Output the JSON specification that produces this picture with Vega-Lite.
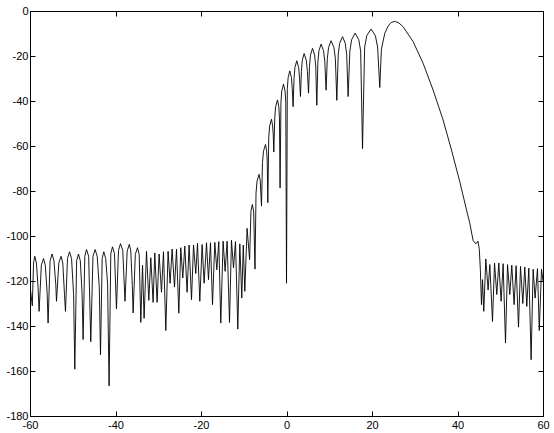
{
  "$schema": "https://vega.github.io/schema/vega-lite/v6.json",
  "width": 513,
  "height": 405,
  "autosize": {"type": "none"},
  "padding": {"left": 30, "top": 11, "right": 11, "bottom": 17},
  "background": "white",
  "config": {
    "view": {"stroke": "black", "strokeWidth": 1},
    "axis": {
      "domainColor": "black",
      "tickColor": "black",
      "tickSize": -5,
      "labelPadding": 8,
      "labelFont": "Liberation Sans",
      "labelFontSize": 11,
      "labelColor": "black",
      "grid": false,
      "title": null
    }
  },
  "data": {
    "values": [
      {"x": -60.00, "y": -122}, {"x": -59.46, "y": -131}, {"x": -59.17, "y": -112}, {"x": -58.88, "y": -109},
      {"x": -58.50, "y": -112}, {"x": -58.11, "y": -123}, {"x": -57.87, "y": -133.5}, {"x": -57.35, "y": -113},
      {"x": -56.84, "y": -110}, {"x": -56.42, "y": -113}, {"x": -56.00, "y": -125}, {"x": -55.77, "y": -138.7},
      {"x": -55.30, "y": -111}, {"x": -54.83, "y": -108}, {"x": -54.40, "y": -111}, {"x": -53.97, "y": -121.5},
      {"x": -53.80, "y": -129}, {"x": -53.26, "y": -112}, {"x": -52.73, "y": -109}, {"x": -52.33, "y": -112},
      {"x": -51.93, "y": -126}, {"x": -51.70, "y": -133.5}, {"x": -51.23, "y": -110}, {"x": -50.76, "y": -107},
      {"x": -50.28, "y": -110}, {"x": -49.80, "y": -126}, {"x": -49.52, "y": -159.2}, {"x": -49.09, "y": -111},
      {"x": -48.66, "y": -108}, {"x": -48.23, "y": -111}, {"x": -47.81, "y": -126}, {"x": -47.58, "y": -146},
      {"x": -47.18, "y": -109}, {"x": -46.78, "y": -106}, {"x": -46.28, "y": -109}, {"x": -45.78, "y": -147},
      {"x": -45.27, "y": -109}, {"x": -44.77, "y": -106}, {"x": -44.28, "y": -109}, {"x": -43.79, "y": -123},
      {"x": -43.51, "y": -152.8}, {"x": -43.12, "y": -110}, {"x": -42.74, "y": -107}, {"x": -42.30, "y": -110},
      {"x": -41.85, "y": -121}, {"x": -41.50, "y": -166.6}, {"x": -41.10, "y": -107.8}, {"x": -40.70, "y": -104.8},
      {"x": -40.24, "y": -107.8}, {"x": -39.77, "y": -132.4}, {"x": -39.30, "y": -106.4}, {"x": -38.83, "y": -103.4},
      {"x": -38.30, "y": -106.4}, {"x": -37.78, "y": -129}, {"x": -37.27, "y": -106.7}, {"x": -36.77, "y": -103.7},
      {"x": -36.42, "y": -106.7}, {"x": -36.07, "y": -122}, {"x": -35.88, "y": -134.2}, {"x": -35.36, "y": -108.2},
      {"x": -34.85, "y": -105.2}, {"x": -34.46, "y": -108.2}, {"x": -34.08, "y": -138.4}, {"x": -33.68, "y": -113},
      {"x": -33.31, "y": -136.6}, {"x": -32.75, "y": -106.8}, {"x": -32.21, "y": -128.6}, {"x": -31.74, "y": -109.7},
      {"x": -31.20, "y": -129.5}, {"x": -30.81, "y": -107.5}, {"x": -30.27, "y": -129.5}, {"x": -29.80, "y": -108},
      {"x": -29.24, "y": -125}, {"x": -28.77, "y": -107}, {"x": -28.23, "y": -142}, {"x": -27.70, "y": -106.8},
      {"x": -27.23, "y": -121}, {"x": -26.76, "y": -105.8}, {"x": -26.20, "y": -122.7}, {"x": -25.73, "y": -105.8},
      {"x": -25.19, "y": -134.3}, {"x": -24.73, "y": -105.2}, {"x": -24.26, "y": -118.7}, {"x": -23.79, "y": -104.5},
      {"x": -23.25, "y": -125}, {"x": -22.78, "y": -104}, {"x": -22.22, "y": -128.3}, {"x": -21.75, "y": -104},
      {"x": -21.22, "y": -116.7}, {"x": -20.82, "y": -103.3}, {"x": -20.28, "y": -129}, {"x": -19.74, "y": -103.8},
      {"x": -19.27, "y": -121}, {"x": -18.71, "y": -103}, {"x": -18.25, "y": -119.4}, {"x": -17.78, "y": -103},
      {"x": -17.31, "y": -130.5}, {"x": -16.77, "y": -102.8}, {"x": -16.30, "y": -115}, {"x": -15.84, "y": -102.5},
      {"x": -15.37, "y": -138.7}, {"x": -14.83, "y": -102.3}, {"x": -14.36, "y": -115.7}, {"x": -13.89, "y": -102.3},
      {"x": -13.33, "y": -138.4}, {"x": -12.87, "y": -101.9}, {"x": -12.40, "y": -114.2}, {"x": -11.93, "y": -102.5},
      {"x": -11.39, "y": -141.4}, {"x": -10.92, "y": -103.5}, {"x": -10.46, "y": -127.6}, {"x": -10.11, "y": -104},
      {"x": -9.75, "y": -124.6}, {"x": -9.22, "y": -96.6}, {"x": -8.63, "y": -110.5}, {"x": -8.32, "y": -89},
      {"x": -8.00, "y": -86}, {"x": -7.68, "y": -89}, {"x": -7.37, "y": -114.7}, {"x": -7.13, "y": -81},
      {"x": -6.89, "y": -75.6}, {"x": -6.41, "y": -72.6}, {"x": -6.13, "y": -75.6}, {"x": -5.85, "y": -86.7},
      {"x": -5.62, "y": -67.3}, {"x": -5.38, "y": -62.3}, {"x": -4.91, "y": -59.3}, {"x": -4.64, "y": -62.3},
      {"x": -4.50, "y": -67.3}, {"x": -4.37, "y": -85.2}, {"x": -4.15, "y": -56.1}, {"x": -3.94, "y": -51.1},
      {"x": -3.51, "y": -48.1}, {"x": -3.24, "y": -51.1}, {"x": -3.10, "y": -55}, {"x": -2.97, "y": -62.7},
      {"x": -2.75, "y": -47.5}, {"x": -2.54, "y": -42.5}, {"x": -2.11, "y": -39.5}, {"x": -1.80, "y": -42.5},
      {"x": -1.65, "y": -47.5}, {"x": -1.50, "y": -78.6}, {"x": -1.30, "y": -40.5}, {"x": -1.10, "y": -35.5},
      {"x": -0.70, "y": -32.5}, {"x": -0.35, "y": -35.5}, {"x": -0.17, "y": -40.5}, {"x": 0.00, "y": -121},
      {"x": 0.19, "y": -34.6}, {"x": 0.38, "y": -29.6}, {"x": 0.77, "y": -26.6}, {"x": 1.15, "y": -29.6},
      {"x": 1.35, "y": -34.6}, {"x": 1.54, "y": -42.5}, {"x": 1.76, "y": -30.1}, {"x": 1.97, "y": -25.1},
      {"x": 2.41, "y": -22.1}, {"x": 2.84, "y": -25.1}, {"x": 3.06, "y": -30.1}, {"x": 3.27, "y": -38},
      {"x": 3.48, "y": -26.9}, {"x": 3.70, "y": -21.9}, {"x": 4.12, "y": -18.9}, {"x": 4.63, "y": -21.9},
      {"x": 4.89, "y": -26.9}, {"x": 5.15, "y": -36.5}, {"x": 5.38, "y": -24.6}, {"x": 5.61, "y": -19.6},
      {"x": 6.08, "y": -16.6}, {"x": 6.58, "y": -19.6}, {"x": 6.84, "y": -24.6}, {"x": 7.09, "y": -41.9},
      {"x": 7.34, "y": -22.7}, {"x": 7.59, "y": -17.7}, {"x": 8.09, "y": -14.7}, {"x": 8.67, "y": -17.7},
      {"x": 8.97, "y": -22.7}, {"x": 9.26, "y": -35.2}, {"x": 9.55, "y": -21.2}, {"x": 9.84, "y": -16.2},
      {"x": 10.43, "y": -13.2}, {"x": 11.10, "y": -16.2}, {"x": 11.43, "y": -21.2}, {"x": 11.77, "y": -39.7},
      {"x": 12.10, "y": -19.4}, {"x": 12.43, "y": -14.4}, {"x": 13.10, "y": -11.4}, {"x": 13.75, "y": -14.4},
      {"x": 14.08, "y": -19.4}, {"x": 14.41, "y": -38}, {"x": 14.82, "y": -17.8}, {"x": 15.23, "y": -12.8},
      {"x": 16.05, "y": -9.8}, {"x": 16.91, "y": -12.8}, {"x": 17.35, "y": -17.8}, {"x": 17.78, "y": -61.2},
      {"x": 18.28, "y": -16}, {"x": 18.78, "y": -11}, {"x": 19.79, "y": -8.0}, {"x": 20.80, "y": -11},
      {"x": 21.31, "y": -16}, {"x": 21.82, "y": -34}, {"x": 22.20, "y": -17}, {"x": 22.99, "y": -9.9},
      {"x": 23.80, "y": -6.6}, {"x": 24.50, "y": -5.1}, {"x": 25.33, "y": -4.6}, {"x": 26.30, "y": -5.3},
      {"x": 27.28, "y": -7.0}, {"x": 29.61, "y": -13.6}, {"x": 31.95, "y": -23.2}, {"x": 34.29, "y": -35.1},
      {"x": 36.63, "y": -48.4}, {"x": 38.60, "y": -61.8}, {"x": 40.54, "y": -75.9}, {"x": 42.11, "y": -88.4},
      {"x": 42.88, "y": -94.4}, {"x": 43.65, "y": -102}, {"x": 44.30, "y": -103.5}, {"x": 44.80, "y": -102.3},
      {"x": 45.10, "y": -106}, {"x": 45.35, "y": -115}, {"x": 45.61, "y": -130.5}, {"x": 45.85, "y": -119.4},
      {"x": 46.15, "y": -133.5}, {"x": 46.62, "y": -110.2}, {"x": 47.16, "y": -124}, {"x": 47.56, "y": -112.7},
      {"x": 48.19, "y": -138}, {"x": 48.66, "y": -112}, {"x": 49.19, "y": -126}, {"x": 49.66, "y": -112},
      {"x": 50.20, "y": -129}, {"x": 50.67, "y": -112.3}, {"x": 51.23, "y": -147.6}, {"x": 51.70, "y": -112.7},
      {"x": 52.23, "y": -126}, {"x": 52.70, "y": -113}, {"x": 53.24, "y": -130.5}, {"x": 53.71, "y": -113.2},
      {"x": 54.27, "y": -140.5}, {"x": 54.74, "y": -113.5}, {"x": 55.28, "y": -130}, {"x": 55.74, "y": -113.8},
      {"x": 56.21, "y": -131.3}, {"x": 56.68, "y": -114.3}, {"x": 57.22, "y": -155}, {"x": 57.69, "y": -114.8},
      {"x": 58.15, "y": -127.6}, {"x": 58.71, "y": -114.5}, {"x": 59.13, "y": -142}, {"x": 59.65, "y": -114.8},
      {"x": 60.00, "y": -120}
    ]
  },
  "layer": [
    {
      "mark": {"type": "line", "color": "black", "strokeWidth": 0.9, "clip": true},
      "encoding": {
        "x": {"field": "x", "type": "quantitative", "sort": null,
              "scale": {"domain": [-60, 60], "nice": false, "zero": false},
              "axis": {"orient": "bottom", "values": [-60, -40, -20, 0, 20, 40, 60], "labelExpr": "'' + datum.value", "labelFlush": false}},
        "y": {"field": "y", "type": "quantitative",
              "scale": {"domain": [-180, 0], "nice": false, "zero": false},
              "axis": {"orient": "left", "values": [-180, -160, -140, -120, -100, -80, -60, -40, -20, 0], "labelExpr": "'' + datum.value", "labelPadding": 7}},
        "order": {"field": "x", "type": "quantitative"}
      }
    },
    {
      "mark": {"type": "line", "strokeOpacity": 0, "clip": true},
      "encoding": {
        "x": {"field": "x", "type": "quantitative",
              "axis": {"orient": "top", "values": [-60, -40, -20, 0, 20, 40, 60], "labels": false}},
        "y": {"field": "y", "type": "quantitative",
              "axis": {"orient": "right", "values": [-180, -160, -140, -120, -100, -80, -60, -40, -20, 0], "labels": false}}
      }
    }
  ],
  "resolve": {"axis": {"x": "independent", "y": "independent"}}
}
